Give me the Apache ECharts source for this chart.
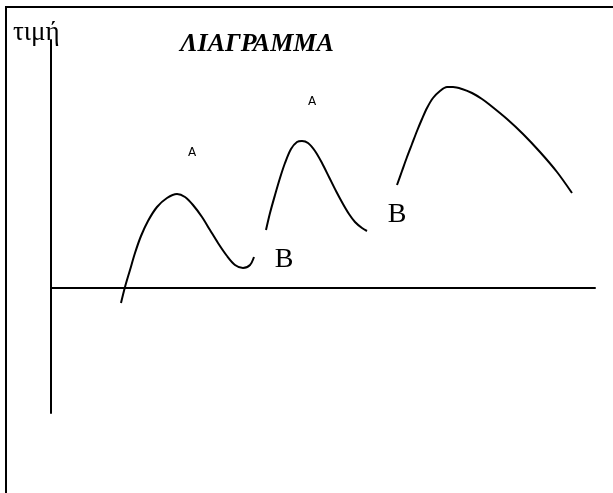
<!DOCTYPE html>
<html><head><meta charset="utf-8">
<script src="https://cdn.jsdelivr.net/npm/echarts@6/dist/echarts.min.js"></script>
<style>html,body{margin:0;padding:0;background:#fff}#c{width:613px;height:493px}</style>
</head><body><div id="c"></div>
<script>
// Curve points (arbitrary units: x along axis, y = τιμή)
const curve1 = [[70,-15],[74,1],[79,18],[84,35],[90,52],[97,67],[106,81],[116,90],[126,94],[134,91],[142,83],[151,71],[159,58],[167,45],[176,32],[184,23],[192,20],[199,23],[203,31]];
const curve2 = [[215,58],[219,75],[224,93],[229,110],[234,125],[240,139],[246,146],[251,147],[257,145],[264,137],[271,125],[278,111],[285,97],[292,84],[298,74],[304,66],[311,60],[316,57]];
const curve3 = [[346,103],[351,117],[356,131],[361,144],[366,157],[371,169],[376,180],[382,190],[389,197],[396,201],[402,201],[411,199],[421,195],[431,189],[439,183],[456,169],[472,154],[489,136],[506,116],[521,95]];
const smallLabels = [[141,135,'A'],[261,186,'A']];
const bigLabels = [[233,28,'B'],[346,73,'B']];
const titleText = 'ΛΙΑΓΡΑΜΜΑ';
const yName = 'τιμή';

const chart = echarts.init(document.getElementById('c'), null, {renderer:'canvas'});
const lineStyle = {color:'#000', width:2};
function curve(d){return {type:'line', data:d, smooth:0.3, showSymbol:false, symbol:'none', lineStyle:lineStyle, silent:true};}
chart.setOption({
  animation:false,
  backgroundColor:'#fff',
  title:[
    {text:titleText, left:252, top:26, textAlign:'center', textStyle:{fontFamily:'Liberation Serif', fontStyle:'italic', fontWeight:'bold', fontSize:26, color:'#000'}},
    {text:yName, left:8, top:14, textStyle:{fontFamily:'Liberation Serif', fontWeight:'normal', fontSize:27, color:'#000'}}
  ],
  graphic:[{type:'polyline', shape:{points:[[6,493],[6,7],[613,7]]}, style:{stroke:'#000', lineWidth:2, fill:null}, silent:true}],
  grid:{left:51, right:18, top:40, bottom:80},
  xAxis:{type:'value', min:0, max:544, axisLine:{onZero:true, lineStyle:{color:'#000', width:2}}, axisTick:{show:false}, axisLabel:{show:false}, splitLine:{show:false}},
  yAxis:{type:'value', min:-125, max:248, axisLine:{show:true, lineStyle:{color:'#000', width:2}}, axisTick:{show:false}, axisLabel:{show:false}, splitLine:{show:false}},
  series:[
    curve(curve1), curve(curve2), curve(curve3),
    {type:'scatter', data:smallLabels, symbolSize:0, silent:true, itemStyle:{opacity:1},
      label:{show:true, position:'inside', formatter:p=>p.data[2], fontFamily:'DejaVu Sans', fontSize:12, color:'#000'}},
    {type:'scatter', data:bigLabels, symbolSize:0, silent:true, itemStyle:{opacity:1},
      label:{show:true, position:'inside', formatter:p=>p.data[2], fontFamily:'Liberation Serif', fontSize:28, color:'#000'}}
  ]
});
</script></body></html>
